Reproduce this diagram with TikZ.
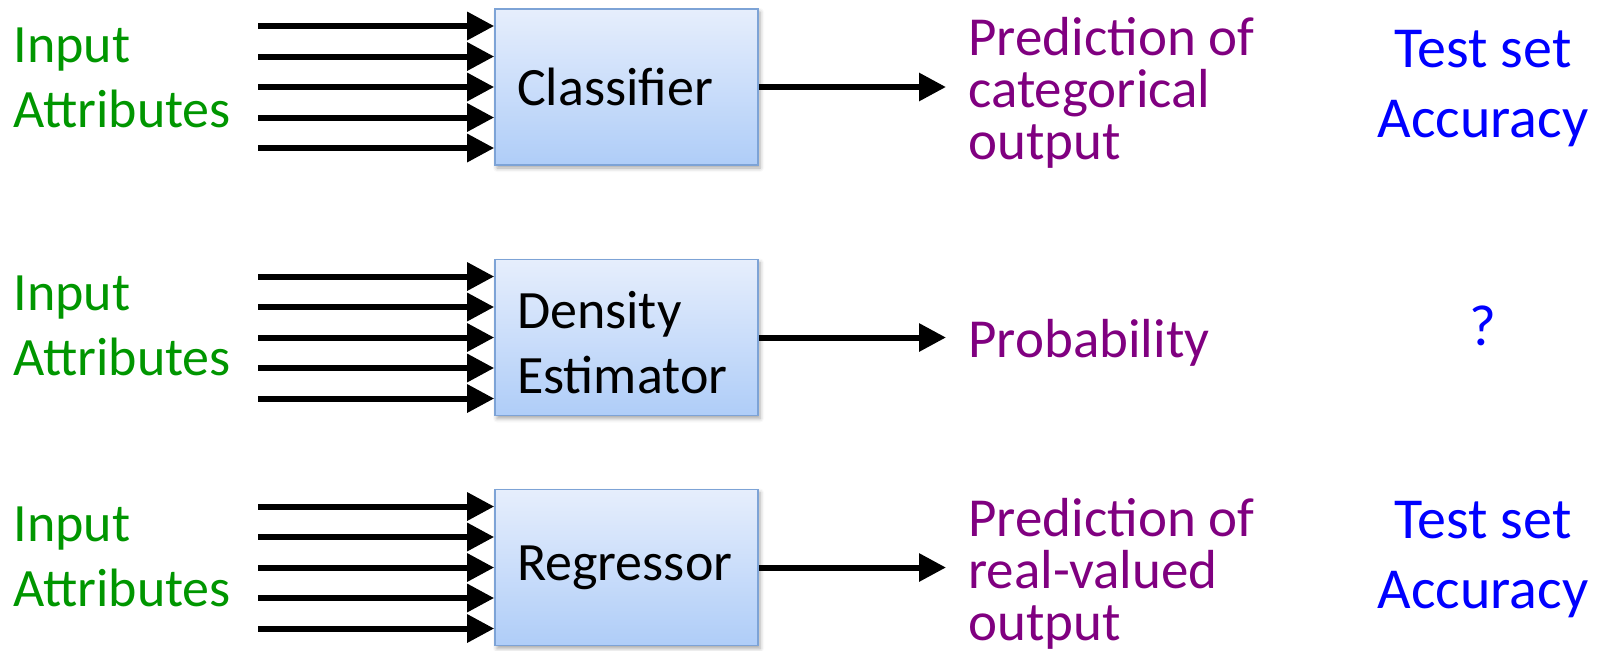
\documentclass[tikz,border=0pt]{standalone}
\usepackage{fontspec}
\setmainfont{Carlito}
\usetikzlibrary{arrows.meta,shadows.blur}
\definecolor{ingreen}{RGB}{0,150,0}
\definecolor{outpurple}{RGB}{128,0,128}
\definecolor{accblue}{RGB}{0,0,255}
\definecolor{boxborder}{RGB}{125,163,214}
\definecolor{boxtop}{RGB}{230,238,252}
\definecolor{boxbot}{RGB}{175,205,248}
\begin{document}
\begin{tikzpicture}[x=0.5pt,y=-0.5pt,
  model/.style={draw=boxborder, line width=0.8pt, top color=boxtop, bottom color=boxbot,
    minimum width=131.5pt, minimum height=78pt, inner xsep=11pt, inner ysep=0pt,
    text width=109.5pt, align=left, font=\fontsize{27pt}{32.5pt}\selectfont,
    blur shadow={shadow xshift=1pt, shadow yshift=-1.5pt, shadow blur radius=2pt, shadow opacity=35}},
  intext/.style={anchor=base west, inner sep=0pt, align=left, text=ingreen,
    font=\fontsize{27pt}{32.5pt}\selectfont},
  outtext/.style={anchor=base west, inner sep=0pt, align=left, text=outpurple,
    font=\fontsize{27.5pt}{26pt}\selectfont},
  acctext/.style={anchor=base, inner sep=0pt, align=center, text=accblue,
    font=\fontsize{29pt}{35pt}\selectfont},
  feed/.style={line width=3pt, -{Triangle[length=13.5pt, width=13.5pt]}}
]
\path[use as bounding box] (0,0) rectangle (1604,650);

% row 1
\node[intext] (i1) at (13,127) {Input\\Attributes};
\node[model] (m1) at (626.5,87) {Classifier};
\node[outtext] (o1) at (968,159) {Prediction of\\categorical\\output};
\node[acctext] (a1) at (1483,137) {Test set\\Accuracy};

% row 2
\node[intext] (i2) at (13,375) {Input\\Attributes};
\node[model] (m2) at (626.5,337.5) {\rule{0pt}{24pt}Density\\Estimator};
\node[outtext] (o2) at (968,357) {Probability};
\node[acctext] (a2) at (1483,345) {?};

% row 3
\node[intext] (i3) at (13,606) {Input\\Attributes};
\node[model] (m3) at (626.5,567.5) {Regressor};
\node[outtext] (o3) at (968,640) {Prediction of\\real-valued\\output};
\node[acctext] (a3) at (1483,608) {Test set\\Accuracy};

\foreach \r/\c in {1/87,2/337.5,3/567.5}{
  \foreach \k/\d in {1/-61,2/-30.5,3/0,4/30.5,5/61}{
    \coordinate (in\r-\k) at (258,\c+\d);
    \draw[feed] (in\r-\k) -- (in\r-\k -| m\r.west);
  }
  \coordinate (out\r) at (946,\c);
  \draw[feed] (m\r.east) -- (out\r);
}
\end{tikzpicture}
\end{document}
